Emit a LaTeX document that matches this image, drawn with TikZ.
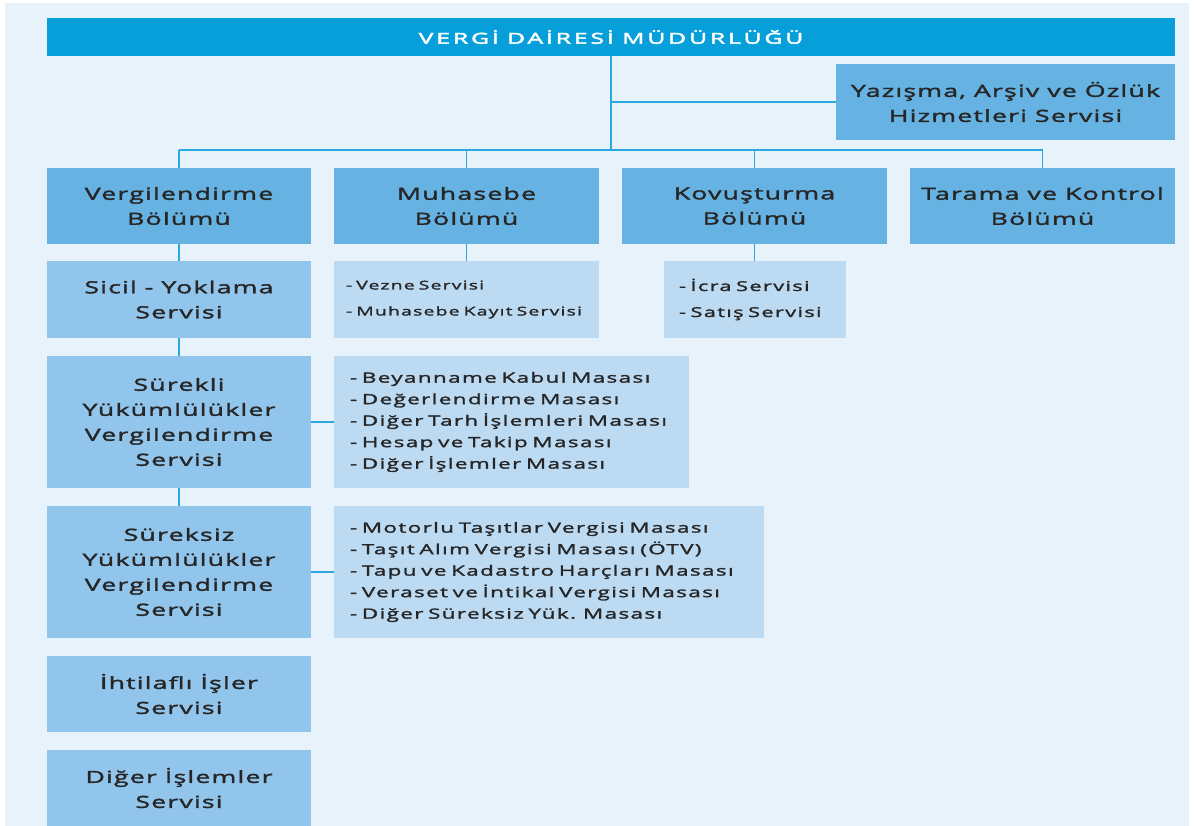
\documentclass[tikz,border=0pt]{standalone}
\usepackage{fontspec}
\setmainfont{Open Sans}
\newfontfamily\boxfont{Open Sans}[FakeStretch=1.6, LetterSpace=7, RawFeature={embolden=2}]
\newfontfamily\lstfont{Open Sans}[FakeStretch=1.6, LetterSpace=10, RawFeature={embolden=2}]
\newfontfamily\hdrfont{Open Sans}[FakeStretch=1.65, LetterSpace=19, RawFeature={embolden=3}]
\usetikzlibrary{positioning}
\definecolor{bgc}{HTML}{E8F2FB}
\definecolor{hdrc}{HTML}{079FDA}
\definecolor{lvlc}{HTML}{66B3E3}
\definecolor{srvc}{HTML}{92C5EC}
\definecolor{lstc}{HTML}{BCDAF2}
\definecolor{linec}{HTML}{2AA8E0}
\definecolor{txtc}{HTML}{262626}
\newcommand{\boxtxt}{\boxfont\fontsize{16.7}{25}\selectfont\spaceskip 0.48em\relax}
\newcommand{\hdrtxt}{\hdrfont\fontsize{15}{20}\selectfont\spaceskip 0.55em\relax}
\newcommand{\lsttxt}[2]{\lstfont\fontsize{#1}{#2}\selectfont\spaceskip 0.46em\relax}
\tikzset{
  box/.style={draw=none, inner sep=0pt, align=center, text=txtc, font=\boxtxt},
  hdrbox/.style={box, fill=hdrc, text=white, font=\hdrtxt},
  lvlbox/.style={box, fill=lvlc},
  srvbox/.style={box, fill=srvc},
  lstbox/.style={box, fill=lstc, align=left, inner xsep=13pt, font={\lsttxt{14}{21.5}}},
  conn/.style={draw=linec, line width=1.6pt},
}
\begin{document}
\begin{tikzpicture}[x=1pt,y=-1pt]
\useasboundingbox (0,0) rectangle (1196,826);
\fill[white] (0,0) rectangle (1196,826);
\fill[bgc] (5,3) rectangle (1189,826);

\node[hdrbox, minimum width=1128pt, minimum height=38pt] (hdr) at (611,37) {VERGİ DAİRESİ MÜDÜRLÜĞÜ};
\node[lvlbox, minimum width=339pt, minimum height=76pt] (yaz) at (1005.5,102) {Yazışma, Arşiv ve Özlük\\Hizmetleri Servisi};

\node[lvlbox, minimum width=264pt, minimum height=76pt] (verg) at (179,206) {Vergilendirme\\Bölümü};
\node[lvlbox, minimum width=265pt, minimum height=76pt] (muh) at (466.5,206) {Muhasebe\\Bölümü};
\node[lvlbox, minimum width=265pt, minimum height=76pt] (kov) at (754.5,206) {Kovuşturma\\Bölümü};
\node[lvlbox, minimum width=265pt, minimum height=76pt] (tar) at (1042.5,206) {Tarama ve Kontrol\\Bölümü};

\node[srvbox, minimum width=264pt, minimum height=77pt] (sicil) at (179,299.5) {Sicil - Yoklama\\Servisi};
\node[srvbox, minimum width=264pt, minimum height=132pt] (surekli) at (179,422) {Sürekli\\Yükümlülükler\\Vergilendirme\\Servisi};
\node[srvbox, minimum width=264pt, minimum height=132pt] (sureksiz) at (179,572) {Süreksiz\\Yükümlülükler\\Vergilendirme\\Servisi};
\node[srvbox, minimum width=264pt, minimum height=76pt] (ihtilaf) at (179,694) {İhtilaflı İşler\\Servisi};
\node[srvbox, minimum width=264pt, minimum height=76pt] (diger) at (179,788) {Diğer İşlemler\\Servisi};

\node[lstbox, text width=241pt, inner xsep=12pt, minimum height=77pt, font={\lsttxt{12.1}{26}}] (muhlist) at (466.5,299.5) {- Vezne Servisi\\- Muhasebe Kayıt Servisi};
\node[lstbox, text width=152pt, inner xsep=15pt, minimum height=77pt, font={\lsttxt{13.6}{26}}] (kovlist) at (755,299.5) {- İcra Servisi\\- Satış Servisi};
\node[lstbox, text width=323pt, inner xsep=16pt, minimum height=132pt] (surlist) at (511.5,422) {- Beyanname Kabul Masası\\- Değerlendirme Masası\\- Diğer Tarh İşlemleri Masası\\- Hesap ve Takip Masası\\- Diğer İşlemler Masası};
\node[lstbox, text width=398pt, inner xsep=16pt, minimum height=132pt] (suksizlist) at (549,572) {- Motorlu Taşıtlar Vergisi Masası\\- Taşıt Alım Vergisi Masası (ÖTV)\\- Tapu ve Kadastro Harçları Masası\\- Veraset ve İntikal Vergisi Masası\\- Diğer Süreksiz Yük. Masası};

\coordinate (busT) at (611,150);
\coordinate (yazJ) at (611,102);
\draw[conn] (hdr.south -| busT) -- (busT);
\draw[conn] (yazJ) -- (yaz.west);
\draw[conn] (verg.north |- busT) -- (tar.north |- busT);
\foreach \n in {verg,muh,kov,tar} \draw[conn] (\n.north |- busT) -- (\n.north);
\draw[conn] (verg) -- (sicil);
\draw[conn] (sicil) -- (surekli);
\draw[conn] (surekli) -- (sureksiz);
\draw[conn] (muh) -- (muhlist);
\draw[conn] (kov.south) -- (kov.south |- kovlist.north);
\draw[conn] (surekli.east) -- (surlist.west);
\draw[conn] (sureksiz.east) -- (suksizlist.west);
\end{tikzpicture}
\end{document}
